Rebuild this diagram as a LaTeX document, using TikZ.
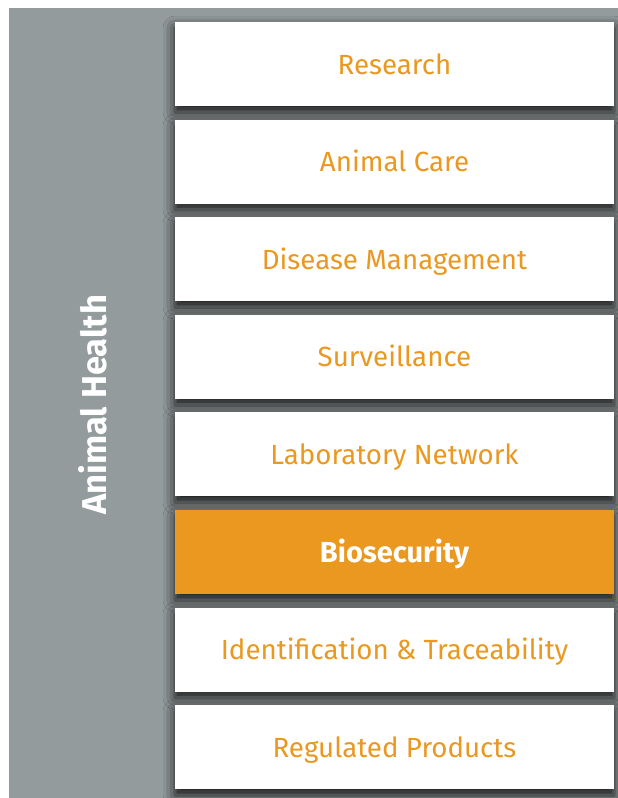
\documentclass[tikz,border=0pt]{standalone}
\usepackage{fontspec}
\setmainfont{Fira Sans}
\usetikzlibrary{positioning,shadows.blur}

\definecolor{panelgray}{HTML}{949B9C}
\definecolor{healthorange}{HTML}{EA9820}

\tikzset{
  topic/.style={rectangle, fill=white, minimum width=439pt, minimum height=84pt,
    inner sep=0pt, text height=22pt, text depth=2pt,
    text=healthorange, font=\fontsize{27.7}{30}\selectfont,
    blur shadow={shadow xshift=0pt, shadow yshift=-6pt, shadow blur radius=12pt,
      shadow opacity=90}},
  highlight/.style={topic, fill=healthorange, text=white,
    font=\fontsize{29}{32}\selectfont\bfseries}
}

\begin{document}
\begin{tikzpicture}[x=1pt, y=-1pt]
      \useasboundingbox (0,0) rectangle (618,798);
      \fill[panelgray] (9,8) rectangle (618,798);

      \node[topic] (research) at (394.5,64) {Research} ;
      \node[topic, below=13.2pt of research] (care) {Animal Care} ;
      \node[topic, below=13.2pt of care] (disease) {Disease Management} ;
      \node[topic, below=13.2pt of disease] (surv) {Surveillance} ;
      \node[topic, below=13.2pt of surv] (lab) {Laboratory Network} ;
      \node[highlight, below=13.2pt of lab] (bio) {Biosecurity} ;
      \node[topic, below=13.2pt of bio] (ident) {Identification \& Traceability} ;
      \node[topic, below=13.2pt of ident] (regul) {Regulated Products} ;

      \node[rotate=90, text=white, font=\fontsize{34.5}{38}\selectfont\bfseries]
        (health) at (93,405) {Animal Health} ;

\end{tikzpicture}
\end{document}
